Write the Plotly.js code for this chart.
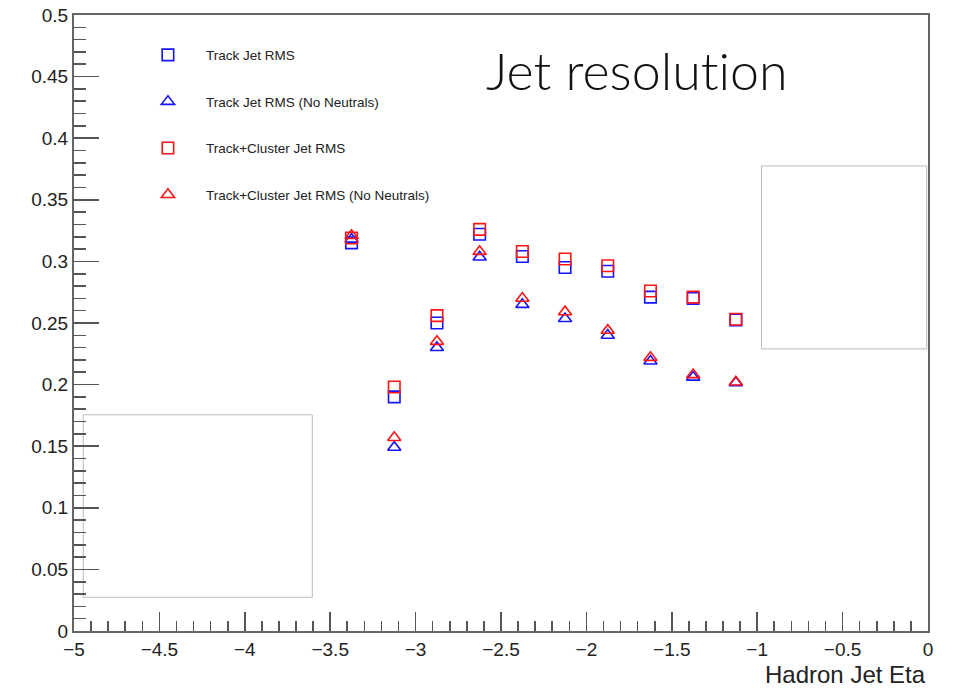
<!DOCTYPE html>
<html>
<head>
<meta charset="utf-8">
<script src="https://cdn.plot.ly/plotly-3.0.1.min.js"></script>
<style>
  html, body { margin: 0; padding: 0; background: #fff; }
  #chart { width: 953px; height: 688px; }
  #chart text { font-variant-ligatures: none; font-feature-settings: "liga" 0; }
</style>
</head>
<body>
<div id="chart"></div>
<script>
// Bin centres in hadron jet pseudorapidity
const eta = [-3.375, -3.125, -2.875, -2.625, -2.375, -2.125, -1.875, -1.625, -1.375, -1.125];

// Jet resolution (RMS) per eta bin
const trackRms            = [0.315, 0.190, 0.250, 0.322, 0.304, 0.295, 0.292, 0.271, 0.270, 0.2525];
const trackRmsNoNeutral   = [0.318, 0.149, 0.230, 0.3035, 0.265, 0.2535, 0.240, 0.219, 0.206, 0.2015];
const clusterRms          = [0.319, 0.198, 0.256, 0.326, 0.308, 0.302, 0.2965, 0.276, 0.271, 0.253];
const clusterRmsNoNeutral = [0.321, 0.157, 0.235, 0.308, 0.270, 0.259, 0.244, 0.222, 0.208, 0.202];

const seriesNames = [
  'Track Jet RMS',
  'Track Jet RMS (No Neutrals)',
  'Track+Cluster Jet RMS',
  'Track+Cluster Jet RMS (No Neutrals)'
];

const BLUE = 'rgb(20,20,255)';
const RED = 'rgb(255,20,20)';

function series(y, name, color, symbol, group) {
  return {
    type: 'scatter',
    mode: 'markers',
    x: eta,
    y: y,
    name: name,
    legendgroup: group,
    marker: {
      symbol: symbol,
      size: 11.5,
      color: color,
      line: { color: color, width: 1.6 }
    },
    hoverinfo: 'x+y'
  };
}

const data = [
  series(trackRms, seriesNames[0], BLUE, 'square-open', 'g1'),
  series(trackRmsNoNeutral, seriesNames[1], BLUE, 'triangle-up-open', 'g2'),
  series(clusterRms, seriesNames[2], RED, 'square-open', 'g3'),
  series(clusterRmsNoNeutral, seriesNames[3], RED, 'triangle-up-open', 'g4')
];

const axisFont = { family: 'Liberation Sans, Arial, sans-serif', size: 19, color: '#222' };

const layout = {
  width: 953,
  height: 688,
  margin: { l: 74, r: 25, t: 15, b: 57 },
  paper_bgcolor: '#fff',
  plot_bgcolor: '#fff',
  showlegend: true,
  title: {
    text: 'Jet resolution',
    font: { family: 'Lato, sans-serif', size: 52, weight: 300, color: '#111' },
    x: 486 / 953,
    xanchor: 'left',
    xref: 'container',
    y: 1 - 72 / 688,
    yanchor: 'middle',
    yref: 'container'
  },
  xaxis: {
    range: [-5, 0],
    showgrid: false,
    zeroline: false,
    showline: true,
    linecolor: '#666',
    linewidth: 2,
    mirror: true,
    ticks: 'inside',
    ticklen: 19,
    tickwidth: 1.6,
    tickcolor: '#555',
    dtick: 0.5,
    tick0: 0,
    minor: { ticks: 'inside', dtick: 0.1, ticklen: 10, tickwidth: 1.6, tickcolor: '#555', showgrid: false },
    tickfont: axisFont,
    fixedrange: true
  },
  yaxis: {
    range: [0, 0.5],
    showgrid: false,
    zeroline: false,
    showline: true,
    linecolor: '#666',
    linewidth: 2,
    mirror: true,
    ticks: 'inside',
    ticklen: 25,
    tickwidth: 1.6,
    tickcolor: '#555',
    dtick: 0.05,
    tick0: 0,
    minor: { ticks: 'inside', dtick: 0.01, ticklen: 12, tickwidth: 1.6, tickcolor: '#555', showgrid: false },
    tickfont: axisFont,
    fixedrange: true
  },
  legend: {
    x: 0.0655,
    xanchor: 'left',
    y: 0.96,
    yanchor: 'top',
    bgcolor: 'rgba(0,0,0,0)',
    borderwidth: 0,
    font: { family: 'Liberation Sans, Arial, sans-serif', size: 13.5, color: '#222' },
    traceorder: 'grouped',
    tracegroupgap: 26,
    itemwidth: 66
  },
  annotations: [
    {
      text: 'Hadron Jet Eta',
      xref: 'paper', yref: 'paper',
      x: 1, y: -0.07,
      xanchor: 'right', yanchor: 'middle',
      showarrow: false,
      font: { family: 'Liberation Sans, Arial, sans-serif', size: 24, color: '#222' }
    }
  ],
  shapes: [
    {
      type: 'rect', xref: 'paper', yref: 'paper', layer: 'below',
      x0: 0.0109, x1: 0.279, y0: 0.0547, y1: 0.351,
      line: { color: '#bbb', width: 1 }, fillcolor: '#fff'
    },
    {
      type: 'rect', xref: 'paper', yref: 'paper', layer: 'below',
      x0: 0.805, x1: 0.9985, y0: 0.458, y1: 0.755,
      line: { color: '#bbb', width: 1 }, fillcolor: '#fff'
    }
  ]
};

Plotly.newPlot('chart', data, layout, { displayModeBar: false, staticPlot: true });
</script>
</body>
</html>
